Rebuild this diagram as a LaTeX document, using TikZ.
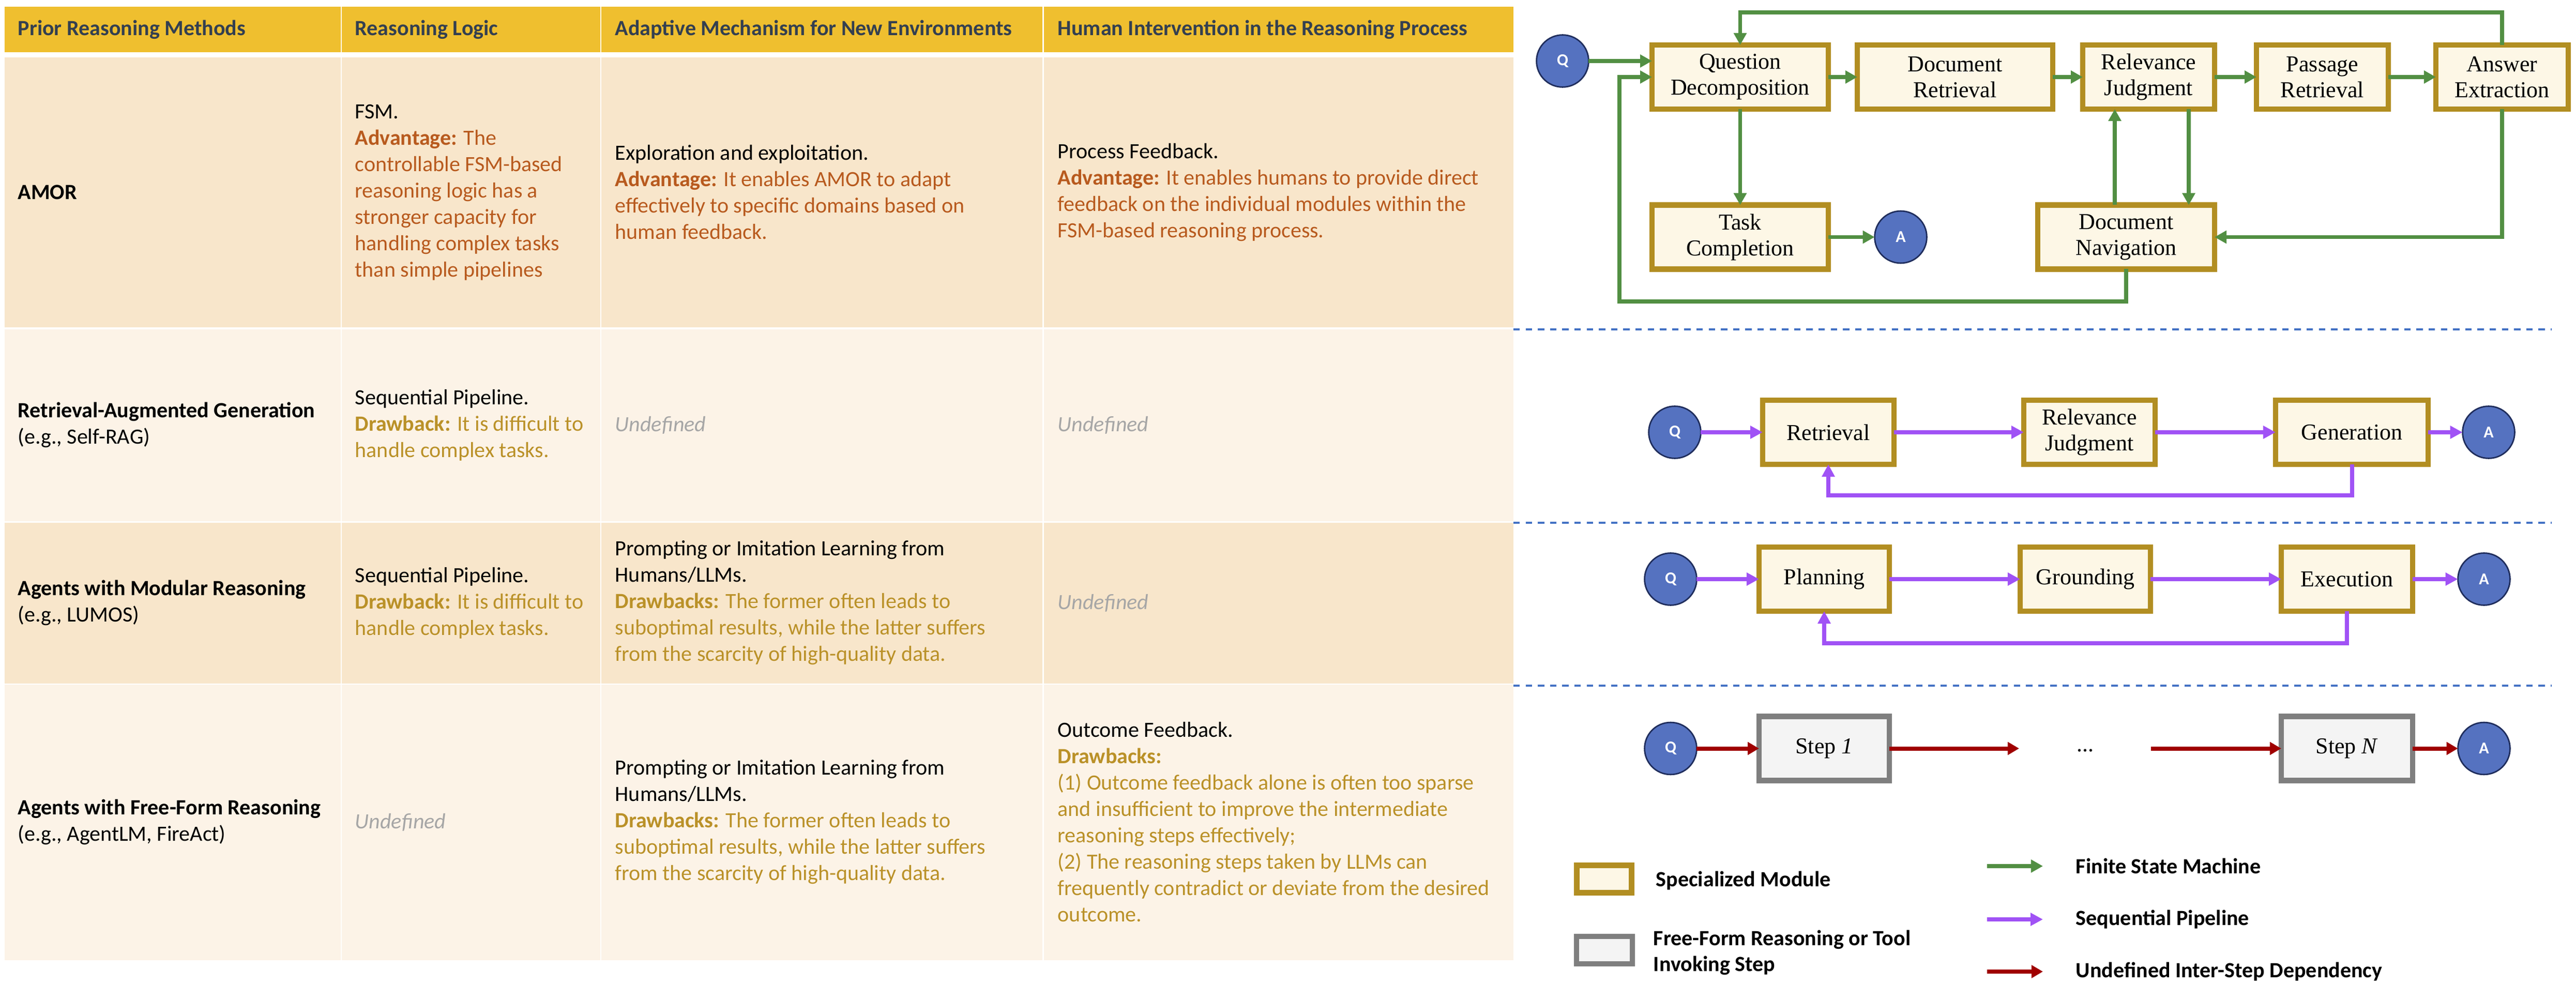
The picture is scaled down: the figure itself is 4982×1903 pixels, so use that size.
\documentclass[tikz,border=0pt]{standalone}
\usepackage{fontspec}
\setmainfont{Carlito}
\newfontfamily\modfont{Liberation Serif}
\usetikzlibrary{arrows.meta}
\definecolor{hdr}{HTML}{EFBF2F}
\definecolor{hdrtxt}{HTML}{333F50}
\definecolor{rowa}{HTML}{F8E6CB}
\definecolor{rowb}{HTML}{FCF3E7}
\definecolor{advc}{HTML}{B85A1E}
\definecolor{drwc}{HTML}{BA9128}
\definecolor{undc}{HTML}{A6A6A6}
\definecolor{modb}{HTML}{B28E22}
\definecolor{modf}{HTML}{FDF7E6}
\definecolor{stpb}{HTML}{7F7F7F}
\definecolor{stpf}{HTML}{F4F4F4}
\definecolor{qaf}{HTML}{5572C0}
\definecolor{qab}{HTML}{1F2D5C}
\definecolor{fsmc}{HTML}{528F43}
\definecolor{seqc}{HTML}{A052F5}
\definecolor{undepc}{HTML}{A00000}
\definecolor{sepc}{HTML}{4472C4}
\newcommand\tabfont{\fontsize{10.5}{12.75}\selectfont}
\newcommand\advt[1]{\textcolor{advc}{#1}}
\newcommand\drwt[1]{\textcolor{drwc}{#1}}
\newcommand\undeft{\textcolor{undc}{\textit{Undefined}}}
\begin{document}
\begin{tikzpicture}[x=0.25pt,y=-0.25pt,
  cell/.style={anchor=west,align=left,inner sep=0pt,font=\tabfont},
  hcell/.style={anchor=west,align=left,inner sep=0pt,font=\tabfont\bfseries,text=hdrtxt},
  mod/.style={draw=modb,fill=modf,line width=2.6pt,minimum height=31pt,inner sep=0pt,outer sep=0pt,
    align=center,font=\modfont\fontsize{11}{12.5}\selectfont},
  stepbox/.style={draw=stpb,fill=stpf,line width=2.6pt,minimum height=31pt,inner sep=0pt,outer sep=0pt,
    align=center,font=\modfont\fontsize{11}{12.5}\selectfont},
  qa/.style={circle,draw=qab,fill=qaf,line width=0.7pt,minimum size=25.2pt,inner sep=0pt,outer sep=0pt,
    text=white,font=\bfseries\fontsize{8}{9}\selectfont},
  fsm/.style={draw=fsmc,line width=1.9pt,-{Triangle[length=5.75pt,width=6pt]}},
  seq/.style={draw=seqc,line width=2pt,-{Triangle[length=6pt,width=6pt]}},
  undep/.style={draw=undepc,line width=2pt,-{Triangle[length=5.5pt,width=6pt]}},
  sepline/.style={draw=sepc,line width=1.2pt,dash pattern=on 3.1pt off 2.8pt},
  legtext/.style={anchor=west,align=left,inner sep=0pt,font=\bfseries\fontsize{10.5}{12.5}\selectfont}
]
\useasboundingbox (0,0) rectangle (4982,1903);

% ---------------- table backgrounds ----------------
\foreach \ya/\yb/\c in {13/101/hdr,111/633/rowa,637/1008/rowb,1011/1322/rowa,1324/1857/rowb}
  \foreach \xa/\xb in {9/659,661/1161,1163/2016,2019/2927}
    \fill[\c] (\xa,\ya) rectangle (\xb,\yb);

% ---------------- header ----------------
\node[hcell] (h1) at (34,57) {Prior Reasoning Methods};
\node[hcell] (h2) at (686,57) {Reasoning Logic};
\node[hcell] (h3) at (1189,57) {Adaptive Mechanism for New Environments};
\node[hcell] (h4) at (2045,57) {Human Intervention in the Reasoning Process};

% ---------------- row 1: AMOR ----------------
\node[cell] (r1c1) at (34,372) {\textbf{AMOR}};
\node[cell] (r1c2) at (686,372) {FSM.\\\advt{\textbf{Advantage:} The}\\\advt{controllable FSM-based}\\\advt{reasoning logic has a}\\\advt{stronger capacity for}\\\advt{handling complex tasks}\\\advt{than simple pipelines}};
\node[cell] (r1c3) at (1189,372) {Exploration and exploitation.\\\advt{\textbf{Advantage:} It enables AMOR to adapt}\\\advt{effectively to specific domains based on}\\\advt{human feedback.}};
\node[cell] (r1c4) at (2045,372) {Process Feedback.\\\advt{\textbf{Advantage:} It enables humans to provide direct}\\\advt{feedback on the individual modules within the}\\\advt{FSM-based reasoning process.}};

% ---------------- row 2: RAG ----------------
\node[cell] (r2c1) at (34,822) {\textbf{Retrieval-Augmented Generation}\\(e.g., Self-RAG)};
\node[cell] (r2c2) at (686,822) {Sequential Pipeline.\\\drwt{\textbf{Drawback:} It is difficult to}\\\drwt{handle complex tasks.}};
\node[cell] (r2c3) at (1189,822) {\undeft};
\node[cell] (r2c4) at (2045,822) {\undeft};

% ---------------- row 3: modular ----------------
\node[cell] (r3c1) at (34,1166) {\textbf{Agents with Modular Reasoning}\\(e.g., LUMOS)};
\node[cell] (r3c2) at (686,1166) {Sequential Pipeline.\\\drwt{\textbf{Drawback:} It is difficult to}\\\drwt{handle complex tasks.}};
\node[cell] (r3c3) at (1189,1166) {Prompting or Imitation Learning from\\Humans/LLMs.\\\drwt{\textbf{Drawbacks:} The former often leads to}\\\drwt{suboptimal results, while the latter suffers}\\\drwt{from the scarcity of high-quality data.}};
\node[cell] (r3c4) at (2045,1166) {\undeft};

% ---------------- row 4: free-form ----------------
\node[cell] (r4c1) at (34,1590) {\textbf{Agents with Free-Form Reasoning}\\(e.g., AgentLM, FireAct)};
\node[cell] (r4c2) at (686,1590) {\undeft};
\node[cell] (r4c3) at (1189,1590) {Prompting or Imitation Learning from\\Humans/LLMs.\\\drwt{\textbf{Drawbacks:} The former often leads to}\\\drwt{suboptimal results, while the latter suffers}\\\drwt{from the scarcity of high-quality data.}};
\node[cell] (r4c4) at (2045,1590) {Outcome Feedback.\\\drwt{\textbf{Drawbacks:}}\\\drwt{(1) Outcome feedback alone is often too sparse}\\\drwt{and insufficient to improve the intermediate}\\\drwt{reasoning steps effectively;}\\\drwt{(2) The reasoning steps taken by LLMs can}\\\drwt{frequently contradict or deviate from the desired}\\\drwt{outcome.}};

% ---------------- separators ----------------
\draw[sepline] (2927,637) -- (4935,637);
\draw[sepline] (2927,1011) -- (4935,1011);
\draw[sepline] (2927,1326) -- (4935,1326);

% ---------------- AMOR FSM diagram ----------------
\node[mod,minimum width=85.25pt] (qd) at (3365.5,149) {Question\\Decomposition};
\node[mod,minimum width=94.5pt] (dr) at (3781,149) {Document\\Retrieval};
\node[mod,minimum width=63.75pt] (rj) at (4155.5,149) {Relevance\\Judgment};
\node[mod,minimum width=63.75pt] (pr) at (4491.5,149) {Passage\\Retrieval};
\node[mod,minimum width=64pt] (ae) at (4839,149) {Answer\\Extraction};
\node[mod,minimum width=85.25pt] (tc) at (3365.5,458.5) {Task\\Completion};
\node[mod,minimum width=85.5pt] (dn) at (4112,458.5) {Document\\Navigation};
\node[qa] (q1) at (3022,118) {Q};
\node[qa] (a1) at (3676,458.5) {A};

\coordinate (lx) at (3132,583);
\coordinate (tl) at (3365.5,24);
\coordinate (xu) at (4090,0);
\coordinate (xd) at (4233,0);

\draw[fsm] (q1.east) -- (q1.east -| qd.west);
\draw[fsm] (dn.south) |- (lx) |- (qd.west);
\draw[fsm] (ae.north) |- (tl) -- (qd.north);
\draw[fsm] (qd.east) -- (dr.west);
\draw[fsm] (dr.east) -- (rj.west);
\draw[fsm] (rj.east) -- (pr.west);
\draw[fsm] (pr.east) -- (ae.west);
\draw[fsm] (qd.south) -- (tc.north);
\draw[fsm] (tc.east) -- (a1.west);
\draw[fsm] (xu |- dn.north) -- (xu |- rj.south);
\draw[fsm] (xd |- rj.south) -- (xd |- dn.north);
\draw[fsm] (ae.south) |- (dn.east);

% ---------------- RAG pipeline ----------------
\node[mod,minimum width=63.5pt] (ret) at (3536,836) {Retrieval};
\node[mod,minimum width=63.5pt] (rj2) at (4041,836) {Relevance\\Judgment};
\node[mod,minimum width=73.75pt] (gen) at (4548.5,836) {Generation};
\node[qa] (q2) at (3239,836) {Q};
\node[qa] (a2) at (4813,836) {A};
\coordinate (l2) at (0,958);
\draw[seq] (q2) -- (ret);
\draw[seq] (ret) -- (rj2);
\draw[seq] (rj2) -- (gen);
\draw[seq] (gen) -- (a2);
\draw[seq] (gen.south) |- (ret.south |- l2) -- (ret.south);

% ---------------- modular agent pipeline ----------------
\node[mod,minimum width=63pt] (pla) at (3528,1120) {Planning};
\node[mod,minimum width=63pt] (gro) at (4033,1120) {Grounding};
\node[mod,minimum width=63.5pt] (exe) at (4539,1120) {Execution};
\node[qa] (q3) at (3231,1120) {Q};
\node[qa] (a3) at (4804,1120) {A};
\coordinate (l3) at (0,1244);
\draw[seq] (q3) -- (pla);
\draw[seq] (pla) -- (gro);
\draw[seq] (gro) -- (exe);
\draw[seq] (exe) -- (a3);
\draw[seq] (exe.south) |- (pla.south |- l3) -- (pla.south);

% ---------------- free-form steps ----------------
\node[stepbox,minimum width=63pt] (s1) at (3528,1447.5) {Step \textit{1}};
\node[stepbox,minimum width=63.5pt] (sn) at (4539,1447.5) {Step \textit{N}};
\node[qa] (q4) at (3231,1447.5) {Q};
\node[qa] (a4) at (4804,1447.5) {A};
\node[inner sep=0pt,font=\modfont\fontsize{11}{12.5}\selectfont] (dots) at (4033,1452) {...};
\coordinate (e1) at (3905,1447.5);
\coordinate (e2) at (4160,1447.5);
\draw[undep] (q4) -- (s1);
\draw[undep] (s1.east) -- (e1);
\draw[undep] (e2) -- (sn.west);
\draw[undep] (sn) -- (a4);

% ---------------- legend ----------------
\node[mod,minimum width=26.5pt,minimum height=13.25pt] (lg1) at (3102.5,1700) {};
\node[stepbox,minimum width=27pt,minimum height=13.25pt] (lg2) at (3103,1837.5) {};
\node[legtext] (lt1) at (3202,1703) {Specialized Module};
\node[legtext] (lt2) at (3197,1842) {Free-Form Reasoning or Tool\\Invoking Step};
\coordinate (la1) at (3843,1675); \coordinate (lb1) at (3951,1675);
\coordinate (la2) at (3843,1778); \coordinate (lb2) at (3951,1778);
\coordinate (la3) at (3843,1879); \coordinate (lb3) at (3951,1879);
\draw[fsm] (la1) -- (lb1);
\draw[seq] (la2) -- (lb2);
\draw[undep] (la3) -- (lb3);
\node[legtext] (lt3) at (4014,1675) {Finite State Machine};
\node[legtext] (lt4) at (4014,1778) {Sequential Pipeline};
\node[legtext] (lt5) at (4014,1879) {Undefined Inter-Step Dependency};
\end{tikzpicture}
\end{document}
